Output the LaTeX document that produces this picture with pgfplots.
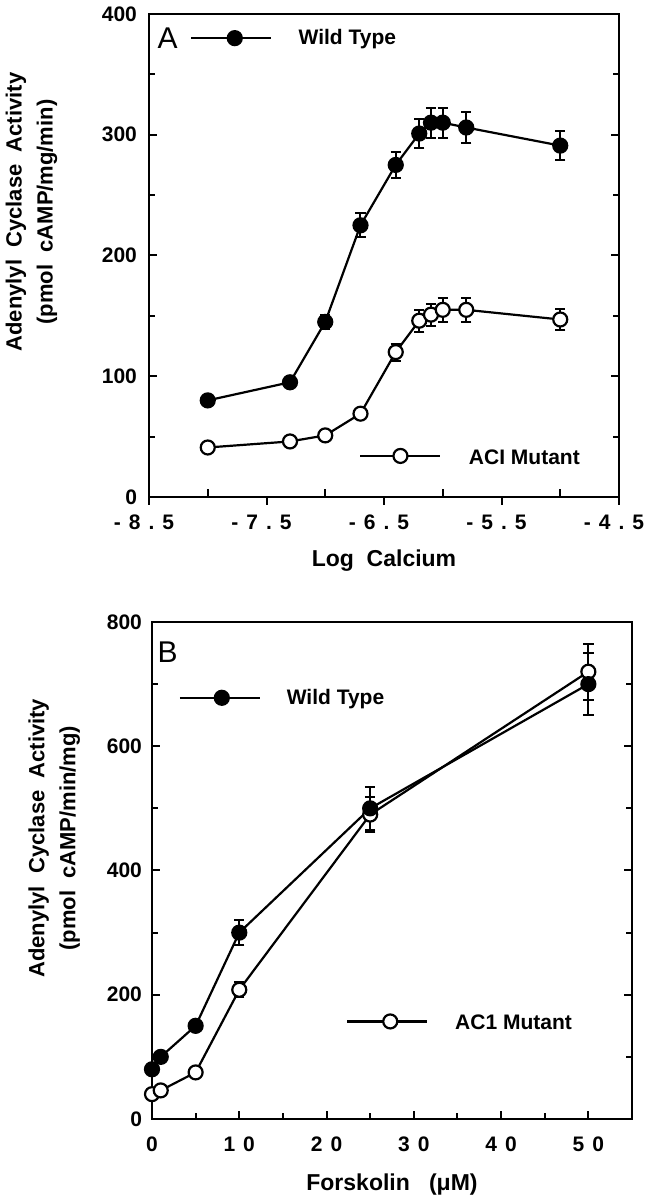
\documentclass[border=0pt]{standalone}
\usepackage{fontspec}
\setmainfont{Liberation Sans}
\usepackage{pgfplots}
\pgfplotsset{compat=1.18}
\newcommand{\ls}[1]{{\addfontfeatures{LetterSpace=38}#1}}
\newcommand{\tickfont}{\bfseries\fontsize{10.5}{12}\selectfont}
\newcommand{\labfont}{\bfseries\fontsize{11.5}{15}\selectfont}
\newcommand{\ylabfont}{\bfseries\fontsize{11}{15.5}\selectfont}
\pgfplotsset{
  base/.style={
    scale only axis,
    axis line style={line width=1.2pt},
    every tick/.style={black, line width=1pt},
    major tick length=4pt, minor tick length=3pt,
    ticklabel style={font=\tickfont},
    /pgf/number format/assume math mode=true,
    clip=false,
  },
  wt/.style={black, line width=1.1pt, mark=*, mark size=3.5pt,
    mark options={fill=black, solid},
    error bars/.cd, y dir=both, y explicit,
    error bar style={line width=1pt},
    error mark options={rotate=90, mark size=2.6pt, line width=1pt}},
  mu/.style={black, line width=1.1pt, mark=*, mark size=3.5pt,
    mark options={fill=white, solid, line width=1.1pt},
    error bars/.cd, y dir=both, y explicit,
    error bar style={line width=1pt},
    error mark options={rotate=90, mark size=2.6pt, line width=1pt}},
}
\begin{document}
\begin{tikzpicture}
\path[use as bounding box] (0,0) rectangle (329pt,600pt);
% ---------- Panel A ----------
\begin{axis}[base,
  at={(74.5pt,351.5pt)}, anchor=south west,
  width=235pt, height=241.5pt,
  xmin=-8.5, xmax=-4.5, ymin=0, ymax=400,
  xtick={-8,-7,-6,-5}, xticklabels={}, xtick pos=bottom,
  ytick={0,100,200,300,400}, minor y tick num=1, ytick pos=both,
  yticklabel style={xshift=-2.5pt},
  tick align=inside,
  ylabel={Adenylyl\ \ Cyclase\ \ Activity\\(pmol\ \ cAMP/mg/min)},
  ylabel style={font=\ylabfont, align=center, at={(axis description cs:-0.18,0.59)}, anchor=south},
]
\addplot[wt] coordinates {
  (-8.0,80) +- (0,2)
  (-7.3,95) +- (0,2)
  (-7.0,145) +- (0,6)
  (-6.7,225) +- (0,10)
  (-6.4,275) +- (0,11)
  (-6.2,301) +- (0,12)
  (-6.1,310) +- (0,12.5)
  (-6.0,310) +- (0,12.5)
  (-5.8,306) +- (0,12.5)
  (-5.0,291) +- (0,12)
};
\addplot[mu] coordinates {
  (-8.0,41) +- (0,2)
  (-7.3,46) +- (0,2)
  (-7.0,51) +- (0,2)
  (-6.7,69) +- (0,2)
  (-6.4,120) +- (0,7)
  (-6.2,146) +- (0,9)
  (-6.1,151) +- (0,9)
  (-6.0,155) +- (0,10)
  (-5.8,155) +- (0,10)
  (-5.0,147) +- (0,9)
};
% legend samples
\addplot[black, line width=1.1pt, mark=*, mark size=3.5pt, mark options={fill=black}, mark indices={2}]
  coordinates {(-8.14,380) (-7.77,380) (-7.46,380)};
\addplot[black, line width=1.1pt, mark=*, mark size=3.5pt, mark options={fill=white}, mark indices={2}]
  coordinates {(-6.70,34) (-6.36,34) (-6.02,34)};
\node[anchor=west, font=\fontsize{15}{15}\selectfont, inner sep=0pt] at (axis cs:-8.43,380) {A};
\node[anchor=west, font=\tickfont, inner sep=0pt] at (axis cs:-7.23,379) {Wild Type};
\node[anchor=west, font=\tickfont, inner sep=0pt] at (axis cs:-5.78,33) {ACI Mutant};
\end{axis}
\begin{axis}[base,
  at={(74.5pt,351.5pt)}, anchor=south west,
  width=235pt, height=241.5pt,
  xmin=-8.5, xmax=-4.5, ymin=0, ymax=400,
  hide y axis, axis x line*=bottom, axis line style={draw=none},
  xtick={-8.5,-7.5,-6.5,-5.5,-4.5},
  xticklabels={\ls{-8.5},\ls{-7.5},\ls{-6.5},\ls{-5.5},\ls{-4.5}},
  xticklabel style={yshift=-1.5pt, xshift=-2.5pt},
  tick align=outside,
  xlabel={Log\ \ Calcium},
  xlabel style={font=\labfont, yshift=-3pt},
]
\end{axis}
% ---------- Panel B ----------
\begin{axis}[base,
  at={(76pt,40.5pt)}, anchor=south west,
  width=240pt, height=248.5pt,
  xmin=0, xmax=55, ymin=0, ymax=800,
  xtick={0,10,20,30,40,50}, minor x tick num=1, xtick pos=bottom,
  xticklabels={\ls{0},\ls{10},\ls{20},\ls{30},\ls{40},\ls{50}},
  xticklabel style={yshift=-5.5pt},
  ytick={0,200,400,600,800}, minor y tick num=1, ytick pos=both,
  yticklabel style={xshift=-1.5pt},
  tick align=inside,
  xlabel={Forskolin\ \ \ (μM)},
  xlabel style={font=\labfont, yshift=-4pt},
  ylabel={Adenylyl\ \ Cyclase\ \ Activity\\(pmol\ \ cAMP/min/mg)},
  ylabel style={font=\ylabfont, align=center, at={(axis description cs:-0.135,0.565)}, anchor=south},
]
\addplot[mu] coordinates {
  (0,40) +- (0,2)
  (1,46) +- (0,2)
  (5,75) +- (0,3)
  (10,208) +- (0,12)
  (25,490) +- (0,28)
  (50,720) +- (0,45)
};
\addplot[wt] coordinates {
  (0,80) +- (0,3)
  (1,100) +- (0,4)
  (5,150) +- (0,8)
  (10,300) +- (0,20)
  (25,500) +- (0,35)
  (50,700) +- (0,50)
};
\addplot[black, line width=1.1pt, mark=*, mark size=3.5pt, mark options={fill=black}, mark indices={2}]
  coordinates {(3.2,678) (8.0,678) (12.4,678)};
\addplot[black, line width=1.1pt, mark=*, mark size=3.5pt, mark options={fill=white}, mark indices={2}]
  coordinates {(22.4,157) (27.3,157) (31.5,157)};
\node[anchor=west, font=\fontsize{15}{15}\selectfont, inner sep=0pt] at (axis cs:0.6,752) {B};
\node[anchor=west, font=\tickfont, inner sep=0pt] at (axis cs:15.4,676) {Wild Type};
\node[anchor=west, font=\tickfont, inner sep=0pt] at (axis cs:34.7,155) {AC1 Mutant};
\end{axis}
\end{tikzpicture}
\end{document}
